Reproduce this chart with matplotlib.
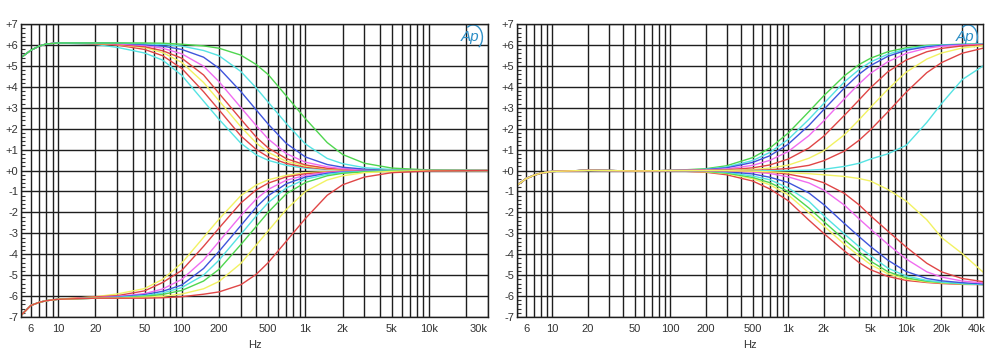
import numpy as np
import matplotlib.pyplot as plt
from matplotlib.patches import Arc
from matplotlib.ticker import LogLocator, MultipleLocator, NullFormatter

plt.rcParams['font.family'] = ['Liberation Sans', 'DejaVu Sans']

GREEN = '#4fd64f'
CYAN = '#55e3e3'
BLUE = '#3f55dc'
MAGENTA = '#f06cf0'
RED = '#e04646'
YELLOW = '#f2f262'

# ---- left panel: bass shelf (boost / cut) ----
f_left = [5, 6, 7, 8, 10, 20, 30, 50, 70, 100, 150, 200, 300, 400, 500, 700,
          1000, 1500, 2000, 3000, 5000, 10000, 30000]

bass_boost = [
    (CYAN, [5.4, 5.75, 5.95, 6.05, 6.1, 6.03, 5.89, 5.62, 5.28, 4.55, 3.32, 2.45, 1.31, 0.75, 0.49, 0.25, 0.11, 0.05, 0.03, 0.01, 0.0, 0.0, 0.0]),
    (RED, [5.4, 5.75, 5.95, 6.05, 6.1, 6.05, 6.0, 5.79, 5.49, 4.88, 3.77, 2.9, 1.66, 1.01, 0.65, 0.34, 0.16, 0.07, 0.04, 0.02, 0.0, 0.0, 0.0]),
    (YELLOW, [5.4, 5.75, 5.95, 6.05, 6.1, 6.08, 6.02, 5.88, 5.64, 5.17, 4.21, 3.34, 2.1, 1.32, 0.87, 0.44, 0.22, 0.09, 0.05, 0.02, 0.0, 0.0, 0.0]),
    (RED, [5.4, 5.75, 5.95, 6.05, 6.1, 6.1, 6.03, 5.92, 5.73, 5.37, 4.57, 3.69, 2.46, 1.6, 1.08, 0.57, 0.27, 0.11, 0.07, 0.03, 0.0, 0.0, 0.0]),
    (MAGENTA, [5.4, 5.75, 5.95, 6.05, 6.1, 6.1, 6.06, 5.98, 5.85, 5.58, 4.99, 4.25, 3.02, 2.15, 1.51, 0.81, 0.4, 0.18, 0.09, 0.04, 0.01, 0.0, 0.0]),
    (BLUE, [5.4, 5.75, 5.95, 6.05, 6.1, 6.1, 6.1, 6.02, 5.95, 5.79, 5.42, 4.89, 3.78, 2.9, 2.22, 1.3, 0.65, 0.29, 0.16, 0.07, 0.02, 0.0, 0.0]),
    (CYAN, [5.4, 5.75, 5.95, 6.05, 6.1, 6.1, 6.1, 6.07, 6.03, 5.95, 5.74, 5.49, 4.74, 3.95, 3.27, 2.25, 1.27, 0.58, 0.33, 0.14, 0.05, 0.01, 0.0]),
    (GREEN, [5.4, 5.75, 5.95, 6.05, 6.1, 6.1, 6.1, 6.1, 6.09, 6.04, 5.96, 5.85, 5.52, 5.07, 4.59, 3.57, 2.48, 1.34, 0.77, 0.35, 0.12, 0.03, 0.0]),
]

bass_cut = [
    (YELLOW, [-6.92, -6.45, -6.3, -6.22, -6.15, -6.03, -5.9, -5.64, -5.2, -4.42, -3.19, -2.32, -1.2, -0.69, -0.44, -0.23, -0.1, -0.05, -0.02, 0.0, 0.0, 0.0, 0.0]),
    (RED, [-6.92, -6.45, -6.3, -6.22, -6.15, -6.04, -5.98, -5.75, -5.35, -4.77, -3.62, -2.75, -1.55, -0.92, -0.6, -0.3, -0.15, -0.07, -0.03, 0.0, 0.0, 0.0, 0.0]),
    (MAGENTA, [-6.92, -6.45, -6.3, -6.22, -6.15, -6.08, -6.02, -5.88, -5.66, -5.2, -4.27, -3.39, -2.16, -1.36, -0.9, -0.46, -0.23, -0.09, -0.05, -0.02, 0.0, 0.0, 0.0]),
    (BLUE, [-6.92, -6.45, -6.3, -6.22, -6.15, -6.1, -6.04, -5.93, -5.77, -5.47, -4.68, -3.86, -2.63, -1.75, -1.2, -0.63, -0.31, -0.13, -0.07, -0.03, 0.0, 0.0, 0.0]),
    (CYAN, [-6.92, -6.45, -6.3, -6.22, -6.15, -6.1, -6.06, -5.98, -5.85, -5.59, -5.0, -4.28, -3.05, -2.17, -1.53, -0.83, -0.41, -0.18, -0.09, -0.04, -0.01, 0.0, 0.0]),
    (GREEN, [-6.92, -6.45, -6.3, -6.22, -6.15, -6.1, -6.1, -6.01, -5.92, -5.73, -5.28, -4.72, -3.54, -2.67, -1.99, -1.11, -0.57, -0.25, -0.13, -0.06, -0.02, 0.0, 0.0]),
    (YELLOW, [-6.92, -6.45, -6.3, -6.22, -6.15, -6.1, -6.1, -6.05, -6.01, -5.9, -5.65, -5.3, -4.44, -3.56, -2.88, -1.86, -1.0, -0.45, -0.25, -0.1, -0.04, 0.0, 0.0]),
    (RED, [-6.92, -6.45, -6.3, -6.22, -6.15, -6.1, -6.1, -6.1, -6.08, -6.03, -5.91, -5.8, -5.46, -4.96, -4.4, -3.38, -2.29, -1.18, -0.68, -0.31, -0.1, -0.02, 0.0]),
]

# ---- right panel: treble shelf (boost / cut) ----
f_right = [5, 6, 7, 8, 10, 20, 30, 50, 100, 200, 300, 500, 700, 1000, 1500,
           2000, 3000, 4000, 5000, 7000, 10000, 15000, 20000, 30000, 45000]
low_end = [-0.7, -0.38, -0.22, -0.12, -0.04, 0.01, 0.0, -0.02, 0.0]

treble_boost = [
    (GREEN, [0.09, 0.23, 0.62, 1.08, 1.79, 2.82, 3.57, 4.53, 5.07, 5.37, 5.68, 5.87, 5.98, 6.01, 6.04, 6.06]),
    (CYAN, [0.06, 0.17, 0.48, 0.87, 1.49, 2.45, 3.2, 4.24, 4.83, 5.19, 5.56, 5.81, 5.95, 6.0, 6.03, 6.05]),
    (BLUE, [0.05, 0.13, 0.39, 0.71, 1.26, 2.16, 2.91, 3.95, 4.61, 5.02, 5.46, 5.75, 5.92, 5.98, 6.02, 6.03]),
    (MAGENTA, [0.03, 0.08, 0.25, 0.49, 0.91, 1.67, 2.37, 3.43, 4.15, 4.65, 5.2, 5.6, 5.85, 5.94, 6.0, 6.03]),
    (RED, [0.01, 0.04, 0.13, 0.27, 0.55, 1.08, 1.64, 2.64, 3.38, 3.96, 4.72, 5.28, 5.68, 5.84, 5.96, 6.01]),
    (YELLOW, [0.0, 0.01, 0.05, 0.12, 0.26, 0.59, 0.94, 1.71, 2.43, 3.02, 3.88, 4.7, 5.33, 5.62, 5.86, 5.97]),
    (RED, [0.0, 0.0, 0.01, 0.04, 0.1, 0.25, 0.47, 0.93, 1.45, 1.95, 2.8, 3.74, 4.68, 5.16, 5.61, 5.85]),
    (CYAN, [0.0, 0.0, 0.0, 0.0, 0.0, 0.02, 0.06, 0.2, 0.35, 0.55, 0.8, 1.2, 2.3, 3.2, 4.35, 5.0]),
]

treble_cut = [
    (RED, [-0.08, -0.2, -0.5, -0.88, -1.44, -2.37, -3.0, -3.84, -4.4, -4.74, -5.06, -5.25, -5.35, -5.4, -5.44, -5.45]),
    (YELLOW, [-0.06, -0.14, -0.39, -0.68, -1.16, -2.02, -2.64, -3.52, -4.08, -4.49, -4.93, -5.18, -5.32, -5.37, -5.42, -5.45]),
    (GREEN, [-0.04, -0.12, -0.33, -0.58, -1.0, -1.79, -2.43, -3.31, -3.89, -4.33, -4.83, -5.13, -5.29, -5.35, -5.41, -5.45]),
    (CYAN, [-0.02, -0.08, -0.26, -0.44, -0.83, -1.47, -2.15, -3.03, -3.64, -4.07, -4.66, -5.04, -5.25, -5.33, -5.4, -5.45]),
    (BLUE, [-0.01, -0.05, -0.16, -0.32, -0.57, -1.07, -1.62, -2.53, -3.16, -3.63, -4.28, -4.82, -5.16, -5.27, -5.36, -5.42]),
    (MAGENTA, [0.0, -0.01, -0.07, -0.14, -0.3, -0.59, -0.93, -1.65, -2.31, -2.8, -3.52, -4.22, -4.84, -5.09, -5.28, -5.37]),
    (RED, [0.0, 0.0, -0.03, -0.07, -0.17, -0.36, -0.58, -1.09, -1.64, -2.16, -2.89, -3.65, -4.43, -4.84, -5.16, -5.31]),
    (YELLOW, [0.0, 0.0, -0.03, -0.06, -0.1, -0.15, -0.2, -0.28, -0.38, -0.5, -0.9, -1.45, -2.35, -3.2, -3.97, -4.85]),
]

left_ticks = [6, 10, 20, 50, 100, 200, 500, 1000, 2000, 5000, 10000, 30000]
left_labels = ['6', '10', '20', '50', '100', '200', '500', '1k', '2k', '5k', '10k', '30k']
right_ticks = [6, 10, 20, 50, 100, 200, 500, 1000, 2000, 5000, 10000, 20000, 40000]
right_labels = ['6', '10', '20', '50', '100', '200', '500', '1k', '2k', '5k', '10k', '20k', '40k']
y_ticks = list(range(-7, 8))
y_labels = [('+%d' % v) if v >= 0 else str(v) for v in y_ticks]


def setup(ax, xmax, ticks, labels):
    ax.set_xscale('log')
    ax.set_xlim(5, xmax)
    ax.set_ylim(-7, 7)
    ax.set_axisbelow(True)
    ax.set_xticks(ticks)
    ax.set_xticklabels(labels)
    ax.xaxis.set_minor_locator(LogLocator(base=10, subs=np.arange(1, 10), numticks=30))
    ax.xaxis.set_minor_formatter(NullFormatter())
    ax.set_yticks(y_ticks)
    ax.set_yticklabels(y_labels)
    ax.yaxis.set_minor_locator(MultipleLocator(0.2))
    ax.grid(True, which='both', axis='x', color='#1e1e1e', lw=1.0)
    ax.grid(True, which='major', axis='y', color='#1e1e1e', lw=1.0)
    ax.tick_params(axis='x', which='both', length=0, pad=5, labelsize=8, labelcolor='#333333')
    ax.tick_params(axis='y', which='major', length=0, pad=2, labelsize=8, labelcolor='#333333')
    ax.tick_params(axis='y', which='minor', direction='in', length=3, width=0.8, color='#333333')
    for s in ax.spines.values():
        s.set_color('#1e1e1e')
        s.set_linewidth(1.0)
    ax.set_xlabel('Hz', fontsize=8, color='#333333', labelpad=4)
    # AP logo
    ax.text(0.962, 0.955, 'Ap', transform=ax.transAxes, ha='center', va='center',
            fontsize=11, fontstyle='italic', color='#2e8fc6')
    ax.add_patch(Arc((0.968, 0.955), 0.04, 0.085, theta1=-70, theta2=110,
                     transform=ax.transAxes, color='#2e8fc6', lw=1.0))


fig = plt.figure(figsize=(10, 3.55), dpi=100)
ax1 = fig.add_axes([0.021, 0.107, 0.467, 0.825])
ax2 = fig.add_axes([0.517, 0.107, 0.466, 0.825])

setup(ax1, 30000, left_ticks, left_labels)
setup(ax2, 45000, right_ticks, right_labels)
ax1.get_xticklabels()[-1].set_ha('right')

for color, vals in bass_boost + bass_cut:
    ax1.plot(f_left, vals, color=color, lw=1.0)

for color, vals in treble_boost + treble_cut:
    ax2.plot(f_right, low_end + vals, color=color, lw=1.0)

fig.savefig('out.png', dpi=100)
